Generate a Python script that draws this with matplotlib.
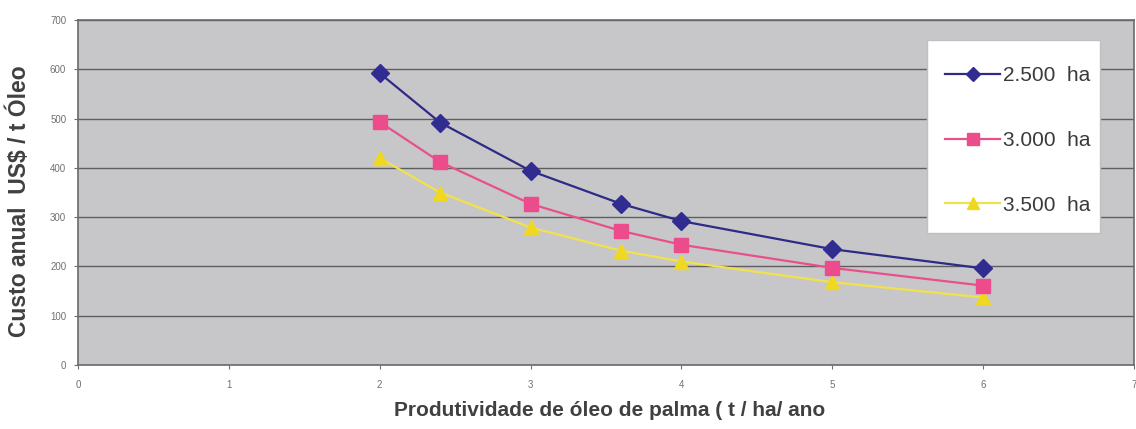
import numpy as np
import matplotlib
matplotlib.use('Agg')
from matplotlib import pyplot as plt
from matplotlib.patches import Rectangle

# productividade (t/ha/ano)
prod = [2, 2.4, 3, 3.6, 4, 5, 6]

# custo anual US$ / t oleo
custo_2500 = [592, 492, 394, 327, 292, 235, 196]
custo_3000 = [493, 412, 327, 272, 244, 197, 161]
custo_3500 = [420, 350, 279, 232, 210, 168, 137]

labels = ['2.500  ha', '3.000  ha', '3.500  ha']
yticks = [0, 100, 200, 300, 400, 500, 600, 700]
xticks = [0, 1, 2, 3, 4, 5, 6, 7]

plt.rcParams['font.family'] = ['Liberation Sans', 'DejaVu Sans']

W, H = 1136, 429
fig = plt.figure(figsize=(W/100, H/100), dpi=100)
fig.patch.set_facecolor('white')
ax = fig.add_axes([78/W, 1 - 365/H, (1134-78)/W, (365-20)/H])
ax.set_facecolor('#c7c7ca')

ax.plot(prod, custo_2500, color='#2e2a86', lw=1.6, marker='D', ms=9,
        mfc='#302c90', mec='#302c90', label=labels[0], zorder=4)
ax.plot(prod, custo_3000, color='#e8508c', lw=1.6, marker='s', ms=10,
        mfc='#ec4c8c', mec='#ec4c8c', label=labels[1], zorder=3)
ax.plot(prod, custo_3500, color='#f2e24a', lw=1.6, marker='^', ms=10,
        mfc='#f0d820', mec='#f0d820', label=labels[2], zorder=2)

ax.set_xlim(0, 7)
ax.set_ylim(0, 700)
ax.set_xticks(xticks)
ax.set_yticks(yticks)
ax.yaxis.grid(True, color='#5e5e5e', lw=1.0)
ax.set_axisbelow(True)
ax.tick_params(axis='both', labelsize=7, colors='#707070', length=3, width=0.8)
ax.tick_params(axis='y', pad=5.5)
ax.tick_params(axis='x', pad=8)
for s in ax.spines.values():
    s.set_color('#6a6a6a')
    s.set_linewidth(1.2)

fig.text(19/W, 1 - 201/H, 'Custo anual  US$ / t Óleo', rotation=90,
         fontsize=16.5, fontweight='bold', color='#404040', ha='center', va='center')
fig.text(610/W, 1 - 411/H, 'Produtividade de óleo de palma ( t / ha/ ano',
         fontsize=15, fontweight='bold', color='#404040', ha='center', va='center')

# legend box drawn separately so its size can match the original
box = Rectangle((927/W, 1 - 233/H), (1100-927)/W, (233-40)/H, transform=fig.transFigure,
                facecolor='white', edgecolor='#c0c0c0', lw=1.0, zorder=8, clip_on=False)
ax.add_patch(box)

leg = ax.legend(loc='upper left', bbox_to_anchor=(945/W, 1 - 66/H),
                bbox_transform=fig.transFigure,
                frameon=False, fontsize=15, labelspacing=2.2,
                handlelength=2.65, handletextpad=0.15, borderpad=0,
                borderaxespad=0, markerscale=0.8)
leg.set_zorder(9)
for t in leg.get_texts():
    t.set_color('#3a3a3a')

fig.savefig('out.png', dpi=100)
